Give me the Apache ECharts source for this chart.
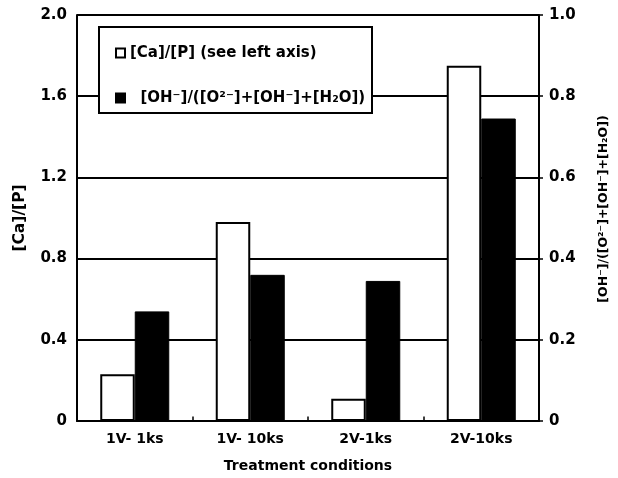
<!DOCTYPE html>
<html>
<head>
<meta charset="utf-8">
<script src="https://cdn.jsdelivr.net/npm/echarts@6/dist/echarts.min.js"></script>
<style>html,body{margin:0;padding:0;background:#fff;}#c{width:618px;height:478px;}</style>
</head>
<body>
<div id="c"></div>
<script>
const categories = ['1V- 1ks', '1V- 10ks', '2V-1ks', '2V-10ks'];
const caPRatio = [0.23, 0.98, 0.11, 1.75];
const ohFraction = [0.27, 0.36, 0.345, 0.745];
const leftTicks = [0, 0.4, 0.8, 1.2, 1.6, 2.0];
const rightTicks = [0, 0.2, 0.4, 0.6, 0.8, 1.0];
const seriesNames = ['[Ca]/[P] (see left axis)', '  [OH\u207B]/([O\u00B2\u207B]+[OH\u207B]+[H\u2082O])'];
const rightAxisName = '[OH\u207B]/([O\u00B2\u207B]+[OH\u207B]+[H\u2082O])';

const font = '"DejaVu Sans", sans-serif';
const fmt = v => (v === 0 ? '0' : v.toFixed(1));
const chart = echarts.init(document.getElementById('c'), null, {renderer: 'canvas'});
chart.setOption({
  animation: false,
  backgroundColor: '#fff',
  grid: {left: 77, right: 75, top: 15, bottom: 54, containLabel: false},
  graphic: [{
    type: 'rect', z: 10,
    shape: {x: 99, y: 27, width: 273, height: 86},
    style: {fill: '#fff', stroke: '#000', lineWidth: 2}
  }],
  legend: {
    z: 20,
    orient: 'vertical',
    left: 110, top: 40.5,
    itemWidth: 9, itemHeight: 9,
    itemGap: 30,
    icon: 'rect',
    textStyle: {fontFamily: font, fontWeight: 'bold', fontSize: 15, color: '#000'},
    data: seriesNames
  },
  xAxis: {
    type: 'category',
    data: categories,
    axisLine: {lineStyle: {color: '#000', width: 2}},
    axisTick: {show: true, inside: true, length: 4.5, lineStyle: {color: '#000', width: 1.5}},
    axisLabel: {fontFamily: font, fontWeight: 'bold', fontSize: 14, color: '#000', margin: 11},
    name: 'Treatment conditions',
    nameLocation: 'middle',
    nameGap: 38,
    nameTextStyle: {fontFamily: font, fontWeight: 'bold', fontSize: 14, color: '#000'}
  },
  yAxis: [{
    type: 'value', min: leftTicks[0], max: leftTicks[leftTicks.length - 1], interval: 0.4,
    axisLine: {show: true, lineStyle: {color: '#000', width: 2}},
    axisTick: {show: false},
    splitLine: {show: true, lineStyle: {color: '#000', width: 2}},
    axisLabel: {fontFamily: font, fontWeight: 'bold', fontSize: 15, color: '#000', margin: 10, formatter: fmt},
    name: '[Ca]/[P]',
    nameLocation: 'middle', nameRotate: 90, nameGap: 49,
    nameTextStyle: {fontFamily: font, fontWeight: 'bold', fontSize: 15.5, color: '#000'}
  }, {
    type: 'value', min: rightTicks[0], max: rightTicks[rightTicks.length - 1], interval: 0.2,
    position: 'right',
    axisLine: {show: true, lineStyle: {color: '#000', width: 2}},
    axisTick: {show: true, length: 4, lineStyle: {color: '#000', width: 1.5}},
    splitLine: {show: false},
    axisLabel: {fontFamily: font, fontWeight: 'bold', fontSize: 15, color: '#000', margin: 10, formatter: fmt},
    name: rightAxisName,
    nameLocation: 'middle', nameRotate: 90, nameGap: 58,
    nameTextStyle: {fontFamily: font, fontWeight: 'bold', fontSize: 12.5, color: '#000', padding: [0, 0, 0, 18]}
  }],
  series: [{
    name: seriesNames[0], type: 'bar', yAxisIndex: 0,
    data: caPRatio, barWidth: 34.5, barGap: '0%', z: 5,
    itemStyle: {color: '#fff', borderColor: '#000', borderWidth: 2}
  }, {
    name: seriesNames[1], type: 'bar', yAxisIndex: 1,
    data: ohFraction, barWidth: 34.5, barGap: '0%', z: 5,
    itemStyle: {color: '#000', borderColor: '#000', borderWidth: 1}
  }]
});
</script>
</body>
</html>
